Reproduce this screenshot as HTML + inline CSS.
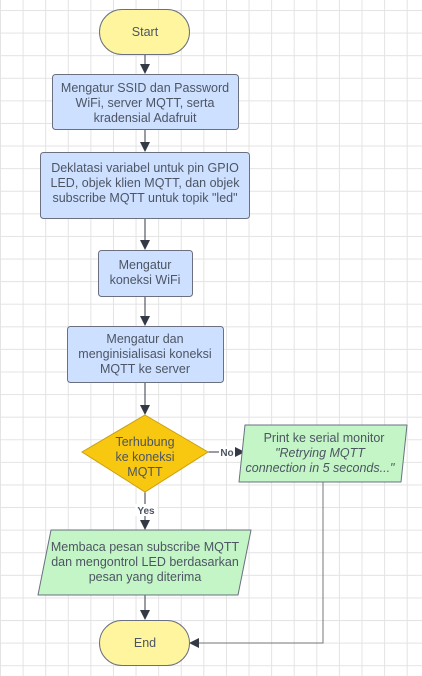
<!DOCTYPE html>
<html><head><style>
body{margin:0;width:422px;height:676px;overflow:hidden;background:#fff;
background-image:linear-gradient(#e3e3e3 1px,transparent 1px),linear-gradient(90deg,#e3e3e3 1px,transparent 1px);
background-size:22.6px 22.6px;background-position:0 10px;}
svg{position:absolute;left:0;top:0}
text{font-family:"Liberation Sans",sans-serif;font-size:12.5px;fill:#4d5563;text-anchor:middle}
</style></head><body>
<svg width="422" height="676">
<defs><marker id="a" markerWidth="10" markerHeight="10" refX="9" refY="5" orient="auto" markerUnits="userSpaceOnUse"><path d="M0,0L10,5L0,10z" fill="#333a45"/></marker></defs>
<g stroke="#333a45" stroke-width="1" fill="none">
<line x1="145" y1="54" x2="145" y2="73" marker-end="url(#a)"/>
<line x1="145" y1="129" x2="145" y2="151" marker-end="url(#a)"/>
<line x1="145" y1="218" x2="145" y2="249" marker-end="url(#a)"/>
<line x1="145" y1="296" x2="145" y2="325" marker-end="url(#a)"/>
<line x1="145" y1="382" x2="145" y2="414" marker-end="url(#a)"/>
<line x1="208" y1="452" x2="244" y2="452" marker-end="url(#a)"/>
<line x1="145" y1="492" x2="145" y2="529" marker-end="url(#a)"/>
<line x1="145" y1="595" x2="145" y2="619" marker-end="url(#a)"/>
<polyline points="323,482 323,643 190,643" stroke="#777" marker-end="url(#a)"/>
</g>
<g stroke="#6a7080" stroke-width="1">
<rect x="99.5" y="9.5" width="90" height="45" rx="22.5" fill="#fff59e"/>
<rect x="52.5" y="74.5" width="186" height="55" rx="3" fill="#cde0ff"/>
<rect x="40.5" y="152.5" width="209" height="66" rx="3" fill="#cde0ff"/>
<rect x="98.5" y="250.5" width="94" height="46" rx="3" fill="#cde0ff"/>
<rect x="67.5" y="326.5" width="156" height="56" rx="3" fill="#cde0ff"/>
<polygon points="145,415 208,452 145,492 82,452" fill="#f8c70f" stroke="#c9a010"/>
<polygon points="245,425 407,425 401,482 239,482" fill="#c3f5c6" stroke-linejoin="round"/>
<polygon points="51,530 251,530 238,595 38,595" fill="#c3f5c6" stroke-linejoin="round"/>
<rect x="99.5" y="620.5" width="90" height="45" rx="22.5" fill="#fff59e"/>
</g>
<rect x="219" y="446" width="16" height="12" fill="#fff"/>
<text x="227" y="456" style="font-size:10px;font-weight:bold">No</text>
<rect x="135" y="504" width="22" height="12" fill="#fff"/>
<text x="146" y="514" style="font-size:10px;font-weight:bold">Yes</text>
<text x="145" y="36">Start</text>
<text x="145" y="92">Mengatur SSID dan Password</text>
<text x="145" y="107">WiFi, server MQTT, serta</text>
<text x="145" y="122">kradensial Adafruit</text>
<text x="145" y="172">Deklatasi variabel  untuk pin GPIO</text>
<text x="145" y="187">LED, objek klien MQTT, dan objek</text>
<text x="145" y="202">subscribe MQTT untuk topik "led"</text>
<text x="145" y="269">Mengatur</text>
<text x="145" y="284">koneksi WiFi</text>
<text x="145" y="343">Mengatur dan</text>
<text x="145" y="358">menginisialisasi koneksi</text>
<text x="145" y="373">MQTT ke server</text>
<text x="145" y="446">Terhubung</text>
<text x="145" y="461">ke koneksi</text>
<text x="145" y="476">MQTT</text>
<text x="324" y="442">Print ke serial monitor</text>
<text x="320" y="457" style="font-style:italic">"Retrying MQTT</text>
<text x="320" y="472" style="font-style:italic">connection in 5 seconds..."</text>
<text x="145" y="551">Membaca pesan subscribe MQTT</text>
<text x="145" y="566">dan mengontrol LED berdasarkan</text>
<text x="145" y="581">pesan yang diterima</text>
<text x="145" y="647">End</text>
</svg>
</body></html>
